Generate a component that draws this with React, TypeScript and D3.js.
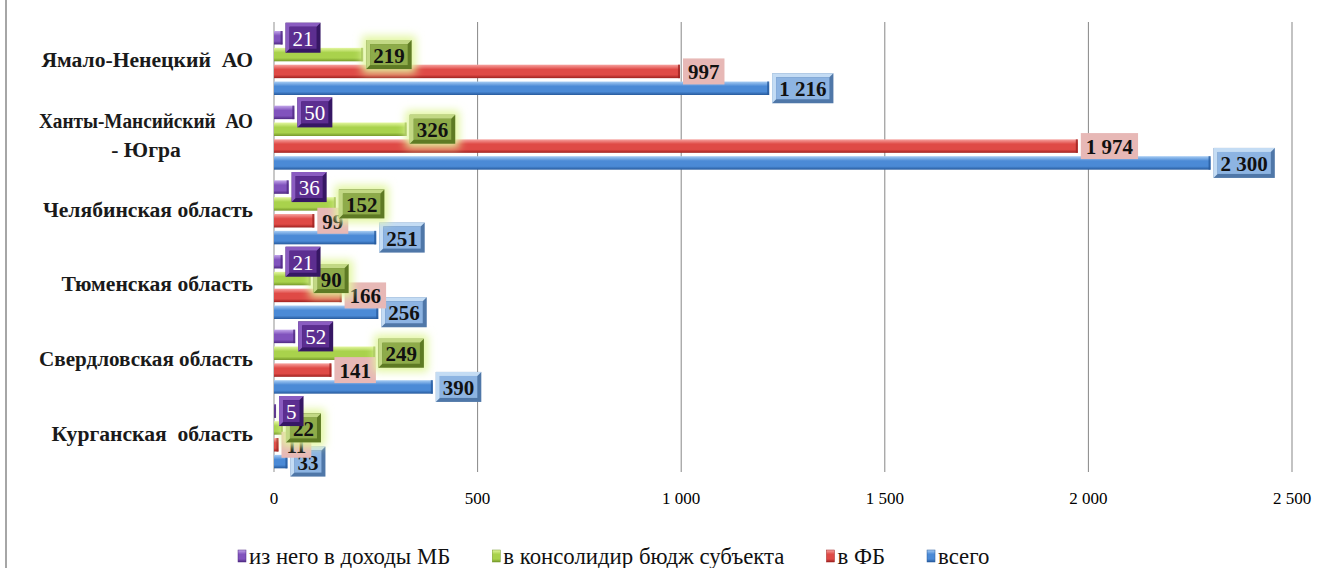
import React, { useEffect, useRef } from 'react';
import * as d3 from 'd3';

// Regions (top to bottom), "\n" marks a line break in the axis label
const regions = [
  "Ямало-Ненецкий  АО",
  "Ханты-Мансийский  АО\n- Югра",
  "Челябинская область",
  "Тюменская область",
  "Свердловская область",
  "Курганская  область",
];

const seriesNames = ["из него в доходы МБ", "в консолидир бюдж субъекта", "в ФБ", "всего"];

const mbValues = [21, 50, 36, 21, 52, 5];
const consValues = [219, 326, 152, 90, 249, 22];
const fbValues = [997, 1974, 99, 166, 141, 11];
const totalValues = [1216, 2300, 251, 256, 390, 33];

const xTicks = [0, 500, 1000, 1500, 2000, 2500];

const App = () => {
  const svgRef = useRef<SVGSVGElement | null>(null);

  useEffect(() => {
    if (!svgRef.current) return;
    document.body.style.margin = "0";

    const width = 1317;
    const height = 568;
    const svg = d3.select(svgRef.current);
    svg.attr("width", width).attr("height", height)
      .attr("font-family", "Liberation Serif");
    svg.selectAll("*").remove();

    const loc = d3.formatLocale({ decimal: ",", thousands: "\u00a0", grouping: [3], currency: ["", ""] });
    const fmt = loc.format(",d");

    const seriesValues = [mbValues, consValues, fbValues, totalValues];

    // bar colours: light / base / dark
    const barColors = [
      ["#c2a6ea", "#8153bd", "#4f2a82"],
      ["#e4f7a0", "#a9d24c", "#76992a"],
      ["#f7a3a0", "#df4a46", "#9e2220"],
      ["#a8cdf4", "#4b8ad6", "#275a9c"],
    ];

    const defs = svg.append("defs");
    barColors.forEach((c, i) => {
      const g = defs.append("linearGradient")
        .attr("id", `bar${i}`)
        .attr("x1", 0).attr("y1", 0).attr("x2", 0).attr("y2", 1);
      g.append("stop").attr("offset", "0%").attr("stop-color", c[0]);
      g.append("stop").attr("offset", "35%").attr("stop-color", c[1]);
      g.append("stop").attr("offset", "75%").attr("stop-color", c[1]);
      g.append("stop").attr("offset", "100%").attr("stop-color", c[2]);
    });
    const glow = defs.append("filter").attr("id", "glow")
      .attr("x", "-50%").attr("y", "-50%").attr("width", "200%").attr("height", "200%");
    glow.append("feGaussianBlur").attr("stdDeviation", 4);

    // scales
    const x = d3.scaleLinear().domain([0, 2500]).range([274, 1292]);
    const y = d3.scaleBand<string>().domain(regions).range([22, 470]);
    const ySub = d3.scaleBand<number>().domain([0, 1, 2, 3]).range([9, 73]).paddingInner(0.2);

    // left frame border
    svg.append("line")
      .attr("x1", 6).attr("x2", 6).attr("y1", 0).attr("y2", height)
      .attr("stroke", "#a6a6a6").attr("stroke-width", 2);

    // gridlines
    xTicks.forEach(t => {
      svg.append("line")
        .attr("x1", x(t)).attr("x2", x(t))
        .attr("y1", 22).attr("y2", 472)
        .attr("stroke", t === 0 ? "#c8c8c8" : "#878787")
        .attr("stroke-width", t === 0 ? 2 : 1);
      svg.append("text")
        .attr("x", x(t)).attr("y", 498)
        .attr("text-anchor", "middle")
        .attr("dominant-baseline", "central")
        .attr("font-size", 17)
        .attr("fill", "#000")
        .text(fmt(t));
    });

    // category labels (wrapped labels are kept within the label column)
    const labelRight = 253;
    const labelMaxW = 214;
    regions.forEach(r => {
      const lines = r.split("\n");
      const cy = y(r)! + y.bandwidth() / 2 + 1;
      const texts = lines.map((ln, i) =>
        svg.append("text")
          .attr("y", cy + (i - (lines.length - 1) / 2) * 29)
          .attr("dominant-baseline", "central")
          .attr("font-size", 21.6).attr("font-weight", "bold")
          .style("white-space", "pre")
          .attr("fill", "#1a1a1a")
          .text(ln)
      );
      const widths = texts.map(t => (t.node() as SVGTextElement).getComputedTextLength());
      const maxW = Math.min(d3.max(widths)!, labelMaxW);
      texts.forEach((t, i) => {
        t.attr("x", labelRight - maxW / 2).attr("text-anchor", "middle");
        if (widths[i] > labelMaxW) {
          t.attr("textLength", labelMaxW).attr("lengthAdjust", "spacingAndGlyphs");
        }
      });
    });

    // bars
    seriesValues.forEach((vals, s) => {
      regions.forEach((r, i) => {
        const by = y(r)! + ySub(s)!;
        const bw = x(vals[i]) - x(0);
        svg.append("rect")
          .attr("x", x(0)).attr("y", by)
          .attr("width", bw).attr("height", ySub.bandwidth())
          .attr("fill", `url(#bar${s})`);
        // bevelled end cap
        svg.append("rect")
          .attr("x", x(vals[i]) - 2).attr("y", by)
          .attr("width", 2).attr("height", ySub.bandwidth())
          .attr("fill", barColors[s][2]).attr("opacity", 0.8);
      });
    });

    // data labels, drawn from last series to first so the top ones overlap
    const labelStyle = [
      { face: "#5c2e90", light: "#8a5cc0", dark: "#361764", text: "#ffffff", bevel: true, h: 30 },
      { face: "#8eab4a", light: "#c2d884", dark: "#5e7a24", text: "#111", bevel: true, h: 29 },
      { face: "#e7b8b6", light: "#e7b8b6", dark: "#e7b8b6", text: "#111", bevel: false, h: 26 },
      { face: "#8db4e2", light: "#c4dcf4", dark: "#4f77a8", text: "#111", bevel: true, h: 30 },
    ];

    [3, 2, 1, 0].forEach(s => {
      const vals = seriesValues[s];
      const st = labelStyle[s];
      regions.forEach((r, i) => {
        const cy = y(r)! + ySub(s)! + ySub.bandwidth() / 2;
        const g = svg.append("g");
        const txt = g.append("text")
          .attr("y", cy + 1)
          .attr("dominant-baseline", "central")
          .attr("text-anchor", "middle")
          .attr("font-size", 21)
          .attr("font-weight", s === 0 ? "normal" : "bold")
          .attr("fill", st.text)
          .text(fmt(vals[i]));
        const tw = (txt.node() as SVGTextElement).getComputedTextLength();
        const bw = tw + (st.bevel ? 14 : 10);
        const bx = x(vals[i]) + 3;
        txt.attr("x", bx + bw / 2);
        const by = cy - st.h / 2;
        if (s === 1) {
          g.insert("rect", "text")
            .attr("x", bx - 4).attr("y", by - 4)
            .attr("width", bw + 8).attr("height", st.h + 8)
            .attr("fill", "#e2f6a0").attr("filter", "url(#glow)");
        }
        if (st.bevel) {
          g.insert("rect", "text")
            .attr("x", bx).attr("y", by).attr("width", bw).attr("height", st.h)
            .attr("fill", st.dark);
          g.insert("path", "text")
            .attr("d", `M${bx},${by}H${bx + bw}L${bx + bw - 4},${by + 4}H${bx + 4}V${by + st.h - 4}L${bx},${by + st.h}Z`)
            .attr("fill", st.light);
          g.insert("rect", "text")
            .attr("x", bx + 4).attr("y", by + 4).attr("width", bw - 8).attr("height", st.h - 8)
            .attr("fill", st.face);
        } else {
          g.insert("rect", "text")
            .attr("x", bx).attr("y", by).attr("width", bw).attr("height", st.h)
            .attr("fill", st.face);
        }
      });
    });

    // legend: items laid out left to right with an even gap
    let lx = 238;
    const legendGap = 42;
    seriesNames.forEach((name, s) => {
      svg.append("rect")
        .attr("x", lx).attr("y", 550)
        .attr("width", 8).attr("height", 12)
        .attr("fill", `url(#bar${s})`)
        .attr("stroke", barColors[s][2]).attr("stroke-width", 0.5);
      const t = svg.append("text")
        .attr("x", lx + 11).attr("y", 556)
        .attr("dominant-baseline", "central")
        .attr("font-size", 22.8)
        .attr("fill", "#111")
        .text(name);
      lx += 11 + (t.node() as SVGTextElement).getComputedTextLength() + legendGap;
    });
  }, []);

  return (
    <div>
      <svg ref={svgRef} style={{ display: "block" }}></svg>
    </div>
  );
};

export default App;
